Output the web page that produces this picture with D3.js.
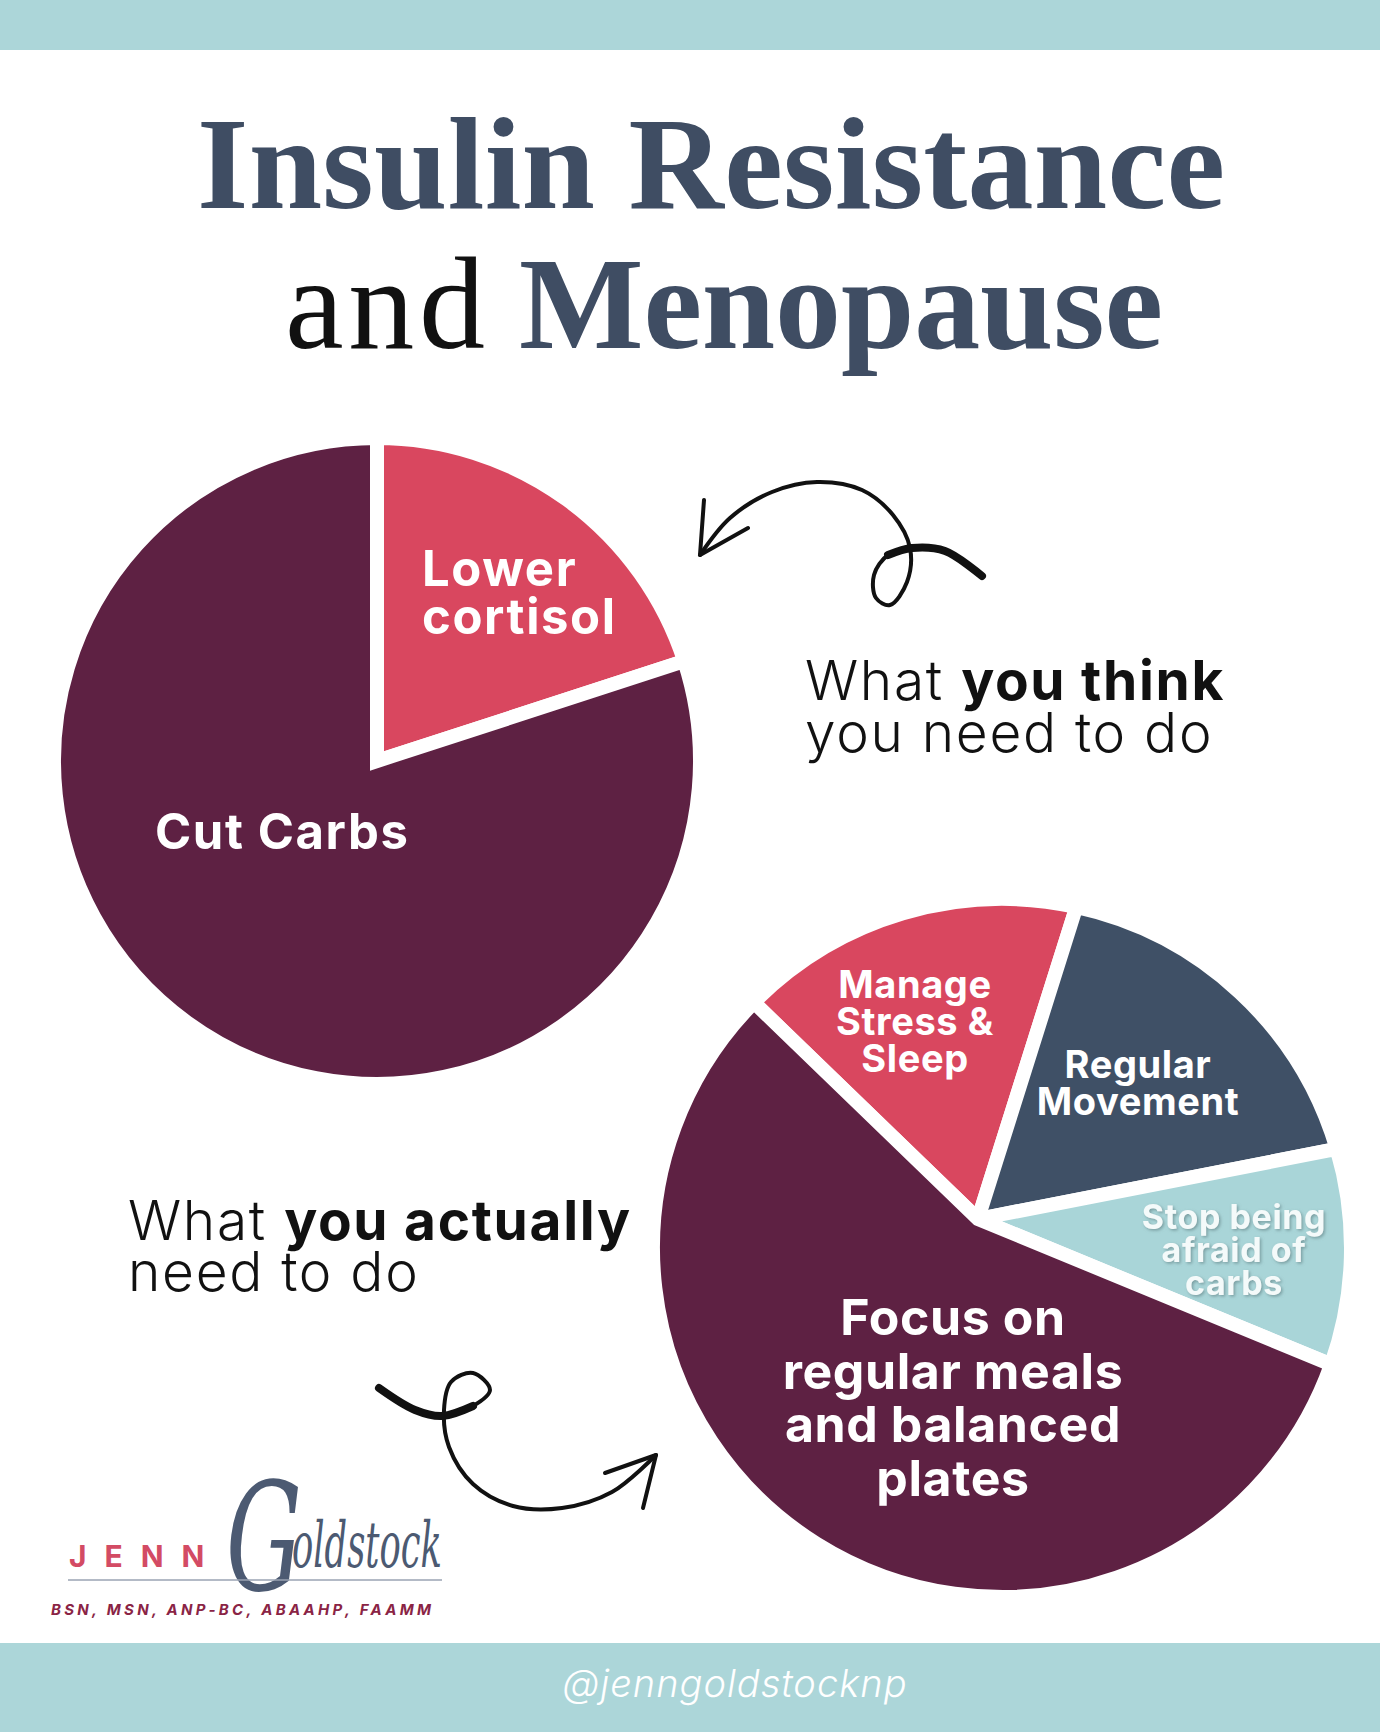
<!DOCTYPE html>
<html>
<head>
<meta charset="utf-8">
<script src="https://cdn.jsdelivr.net/npm/d3@7"></script>
<style>
  body { margin: 0; background: #fff; }
  svg { display: block; }
</style>
</head>
<body>
<div id="chart"></div>
<script>
/* chart data */
const topCategories = ["Lower cortisol", "Cut Carbs"];
const topValues = [20, 80];
const topColors = ["#d9475f", "#5e2143"];
const topLabelLines = [["Lower", "cortisol"], ["Cut Carbs"]];

const bottomCategories = ["Manage Stress & Sleep", "Regular Movement", "Stop being afraid of carbs", "Focus on regular meals and balanced plates"];
const bottomValues = [16, 17, 10, 57];
const bottomColors = ["#d9475f", "#3f5066", "#a9d5d8", "#5e2143"];
const bottomLabelLines = [["Manage", "Stress &", "Sleep"], ["Regular", "Movement"], ["Stop being", "afraid of", "carbs"], ["Focus on", "regular meals", "and balanced", "plates"]];

window.addEventListener("DOMContentLoaded", main)

function main() {
    const W = 1380, H = 1732;
    const band = "#acd6d9";
    const labelFont = "Inter, 'Open Sans', sans-serif";

    const svg = d3.select("#chart").append("svg").attr("width", W).attr("height", H)

    /* bands */
    svg.append("rect").attr("x", 0).attr("y", 0).attr("width", W).attr("height", 50).attr("fill", band)
    svg.append("rect").attr("x", 0).attr("y", 1643).attr("width", W).attr("height", H - 1643).attr("fill", band)

    /* title */
    const title = svg.append("g")
        .style("font-family", "'Liberation Serif', 'Times New Roman', serif")
        .style("font-size", "132px")
    title.append("text").attr("x", 197).attr("y", 208).attr("fill", "#3f4d63")
        .style("font-weight", "bold")
        .attr("textLength", 1028).attr("lengthAdjust", "spacing")
        .text("Insulin Resistance")
    title.append("text").attr("x", 285).attr("y", 348).attr("fill", "#111")
        .attr("textLength", 200).attr("lengthAdjust", "spacing")
        .text("and")
    title.append("text").attr("x", 519).attr("y", 348).attr("fill", "#3f4d63")
        .style("font-weight", "bold")
        .attr("textLength", 644).attr("lengthAdjust", "spacing")
        .text("Menopause")

    /* top pie */
    const topR = 323;
    const topPie = d3.pie().sort(null).startAngle(0).endAngle(2 * Math.PI)(topValues)
    const topArc = d3.arc().innerRadius(0).outerRadius(topR)
    const gTop = svg.append("g").attr("transform", "translate(377,761)")
    gTop.selectAll("path.slice")
        .data(topPie)
        .enter()
        .append("path")
        .attr("class", "slice")
        .attr("d", topArc)
        .attr("fill", (d, i) => topColors[i])
        .attr("stroke", "#fff")
        .attr("stroke-width", 14)
        .attr("stroke-linejoin", "miter")

    // label anchors relative to pie centre
    const topLabelPos = [{ x: 45, y: -175 }, { x: -222, y: 88 }];
    gTop.selectAll("text.lbl")
        .data(topLabelLines)
        .enter()
        .append("text")
        .attr("class", "lbl")
        .attr("x", (d, i) => topLabelPos[i].x)
        .attr("y", (d, i) => topLabelPos[i].y)
        .attr("fill", "#fff")
        .style("font-family", labelFont)
        .style("font-weight", 700)
        .style("font-size", "49px")
        .style("letter-spacing", "1.6px")
        .each(function (lines, i) {
            d3.select(this).selectAll("tspan")
                .data(lines)
                .enter()
                .append("tspan")
                .attr("x", topLabelPos[i].x)
                .attr("dy", (d, j) => j ? 48 : 0)
                .text(d => d)
        })

    /* bottom pie: arcs share one circle, slices meet at a shifted apex */
    const cx = 1002, cy = 1248, botR = 349;
    const apex = { x: -24, y: -29 };
    const a0 = -45.3 * Math.PI / 180;
    const botPie = d3.pie().sort(null).startAngle(a0).endAngle(a0 + 2 * Math.PI)(bottomValues)

    function slicePath(d) {
        const s = d.startAngle - Math.PI / 2, e = d.endAngle - Math.PI / 2;
        const p = d3.path();
        p.moveTo(apex.x, apex.y);
        p.lineTo(botR * Math.cos(s), botR * Math.sin(s));
        p.arc(0, 0, botR, s, e, false);
        p.closePath();
        return p.toString();
    }

    const gBot = svg.append("g").attr("transform", "translate(" + cx + "," + cy + ")")
    gBot.selectAll("path.slice")
        .data(botPie)
        .enter()
        .append("path")
        .attr("class", "slice")
        .attr("d", slicePath)
        .attr("fill", (d, i) => bottomColors[i])
        .attr("stroke", "#fff")
        .attr("stroke-width", 14)
        .attr("stroke-linejoin", "miter")

    const defs = svg.append("defs")
    defs.append("filter").attr("id", "shadow")
        .append("feDropShadow")
        .attr("dx", 1.5).attr("dy", 1.5).attr("stdDeviation", 1.5)
        .attr("flood-color", "#6d8f93").attr("flood-opacity", 0.8)

    const botLabelPos = [
        { x: -87, y: -250, size: 38, lh: 37 },
        { x: 136, y: -170, size: 38, lh: 37 },
        { x: 232, y: -19, size: 34, lh: 33 },
        { x: -49, y: 87, size: 50, lh: 53.5 }
    ];
    gBot.selectAll("text.lbl")
        .data(bottomLabelLines)
        .enter()
        .append("text")
        .attr("class", "lbl")
        .attr("text-anchor", "middle")
        .attr("y", (d, i) => botLabelPos[i].y)
        .attr("fill", (d, i) => i == 2 ? "#f4fafa" : "#fff")
        .attr("filter", (d, i) => i == 2 ? "url(#shadow)" : null)
        .style("font-family", labelFont)
        .style("font-weight", 700)
        .style("font-size", (d, i) => botLabelPos[i].size + "px")
        .style("letter-spacing", "0.6px")
        .each(function (lines, i) {
            d3.select(this).selectAll("tspan")
                .data(lines)
                .enter()
                .append("tspan")
                .attr("x", botLabelPos[i].x)
                .attr("dy", (d, j) => j ? botLabelPos[i].lh : 0)
                .text(d => d)
        })

    /* captions */
    const cap = svg.append("g")
        .style("font-family", labelFont)
        .style("font-size", "55px")
        .style("letter-spacing", "1.7px")
        .attr("fill", "#111")
    const c1 = cap.append("text").attr("x", 805).attr("y", 700)
    c1.append("tspan").style("font-weight", 300).text("What ")
    c1.append("tspan").style("font-weight", 700).text("you think")
    cap.append("text").attr("x", 805).attr("y", 752).style("font-weight", 300).text("you need to do")
    const c2 = cap.append("text").attr("x", 128).attr("y", 1240)
    c2.append("tspan").style("font-weight", 300).text("What ")
    c2.append("tspan").style("font-weight", 700).text("you actually")
    cap.append("text").attr("x", 128).attr("y", 1291).style("font-weight", 300).text("need to do")

    /* hand drawn arrows */
    const line = d3.line().curve(d3.curveCatmullRom.alpha(0.5))
    const arrows = svg.append("g").attr("fill", "none").attr("stroke", "#111")
        .attr("stroke-linecap", "round").attr("stroke-linejoin", "round")

    const topArrow = [[700, 555], [730, 518], [772, 492], [817, 482], [862, 490], [893, 515], [910, 548], [907, 582], [890, 605], [876, 598], [874, 575], [888, 555], [912, 548], [945, 551], [982, 576]];
    arrows.append("path").attr("d", line(topArrow)).attr("stroke-width", 4)
    arrows.append("path").attr("d", line(topArrow.slice(11))).attr("stroke-width", 8)
    arrows.append("path").attr("d", "M704,500 L700,555 L748,528").attr("stroke-width", 4)

    const botArrow = [[379, 1388], [415, 1410], [442, 1416], [473, 1406], [490, 1390], [473, 1373], [451, 1382], [444, 1410], [449, 1447], [473, 1484], [513, 1506], [562, 1508], [612, 1492], [656, 1455]];
    arrows.append("path").attr("d", line(botArrow)).attr("stroke-width", 4)
    arrows.append("path").attr("d", line(botArrow.slice(0, 4))).attr("stroke-width", 8)
    arrows.append("path").attr("d", "M605,1473 L656,1455 L643,1508").attr("stroke-width", 4)

    /* logo */
    const logo = svg.append("g")
    logo.append("text").attr("x", 69).attr("y", 1567)
        .attr("fill", "#d34b64")
        .style("font-family", labelFont).style("font-weight", 700)
        .style("font-size", "30px").style("letter-spacing", "18px")
        .text("JENN")
    const script = logo.append("g").attr("fill", "#4c5a72")
        .style("font-family", "'DejaVu Serif', serif").style("font-style", "italic")
    script.append("text").attr("x", 226).attr("y", 1590)
        .style("font-size", "150px").style("font-weight", 200)
        .attr("textLength", 76).attr("lengthAdjust", "spacingAndGlyphs")
        .text("G")
    script.append("text").attr("x", 292).attr("y", 1567)
        .style("font-size", "64px").style("font-weight", 200)
        .attr("textLength", 150).attr("lengthAdjust", "spacingAndGlyphs")
        .text("oldstock")
    logo.append("line").attr("x1", 68).attr("x2", 442).attr("y1", 1580).attr("y2", 1580)
        .attr("stroke", "#9aa3b3").attr("stroke-width", 1.5)
    logo.append("text").attr("x", 51).attr("y", 1615)
        .attr("fill", "#8a2445")
        .style("font-family", labelFont).style("font-weight", 700).style("font-style", "italic")
        .style("font-size", "15px").style("letter-spacing", "3.3px")
        .text("BSN, MSN, ANP-BC, ABAAHP, FAAMM")

    /* footer handle */
    svg.append("text").attr("x", 735).attr("y", 1697).attr("text-anchor", "middle")
        .attr("fill", "#fff")
        .style("font-family", labelFont).style("font-weight", 300).style("font-style", "italic")
        .style("font-size", "38px").style("letter-spacing", "1px")
        .text("@jenngoldstocknp")
}
</script>
</body>
</html>
